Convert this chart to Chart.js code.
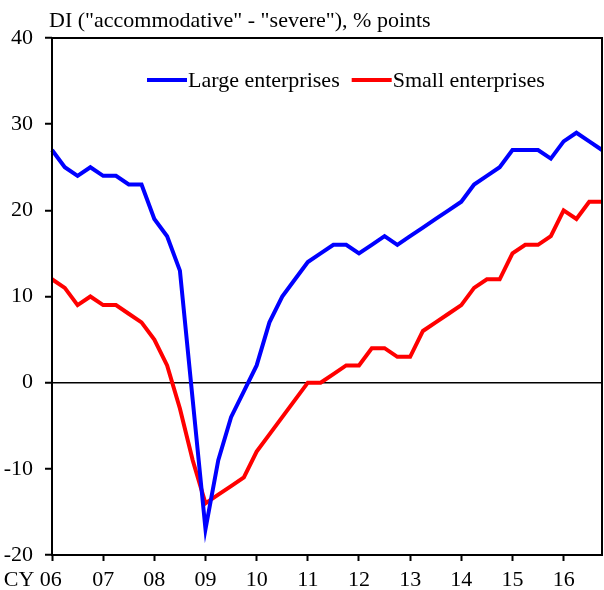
<!DOCTYPE html>
<html><head><meta charset="utf-8">
<script src="https://cdn.jsdelivr.net/npm/chart.js@4.4.1/dist/chart.umd.min.js"></script>
<style>html,body{margin:0;padding:0;background:#fff;}canvas{display:block;}</style>
</head><body>
<canvas id="c" width="604" height="590"></canvas>
<script>
const quarters = [
 "2006Q1","2006Q2","2006Q3","2006Q4","2007Q1","2007Q2","2007Q3","2007Q4",
 "2008Q1","2008Q2","2008Q3","2008Q4","2009Q1","2009Q2","2009Q3","2009Q4",
 "2010Q1","2010Q2","2010Q3","2010Q4","2011Q1","2011Q2","2011Q3","2011Q4",
 "2012Q1","2012Q2","2012Q3","2012Q4","2013Q1","2013Q2","2013Q3","2013Q4",
 "2014Q1","2014Q2","2014Q3","2014Q4","2015Q1","2015Q2","2015Q3","2015Q4",
 "2016Q1","2016Q2","2016Q3","2016Q4"];
const yearLabels = ["CY 06","07","08","09","10","11","12","13","14","15","16"];
const largeEnterprises = [27,25,24,25,24,24,23,23,19,17,13,-2,-17,-9,-4,-1,2,7,10,12,14,15,16,16,15,16,17,16,17,18,19,20,21,23,24,25,27,27,27,26,28,29,28,27];
const smallEnterprises = [12,11,9,10,9,9,8,7,5,2,-3,-9,-14,-13,-12,-11,-8,-6,-4,-2,0,0,1,2,2,4,4,3,3,6,7,8,9,11,12,12,15,16,16,17,20,19,21,21];
const seriesNames = ["Large enterprises","Small enterprises"];
const titleText = 'DI ("accommodative" - "severe"), % points';
const yTicks = {min:-20, max:40, step:10};

const FONT = '"Liberation Serif","Times New Roman",serif';

const decor = {
  id:'decor',
  afterDraw(chart){
    const ctx = chart.ctx, a = chart.chartArea;
    ctx.save();
    ctx.strokeStyle = '#000'; ctx.lineWidth = 2;
    ctx.strokeRect(a.left, a.top, a.right - a.left, a.bottom - a.top);
    ctx.font = '22px ' + FONT; ctx.fillStyle = '#000';
    ctx.textBaseline = 'alphabetic'; ctx.textAlign = 'left';
    ctx.fillText(titleText, 49, 27);
    let x = 147;
    chart.data.datasets.forEach(ds => {
      ctx.strokeStyle = ds.borderColor; ctx.lineWidth = 4; ctx.lineCap = 'butt';
      ctx.beginPath(); ctx.moveTo(x, 80); ctx.lineTo(x + 40, 80); ctx.stroke();
      x += 41;
      ctx.fillText(ds.label, x, 87);
      x += ctx.measureText(ds.label).width + 12;
    });
    ctx.restore();
  }
};

new Chart(document.getElementById('c'), {
  type: 'line',
  data: {
    labels: quarters,
    datasets: [
      {label: seriesNames[0], data: largeEnterprises, borderColor: '#0000ff', backgroundColor: '#0000ff', borderWidth: 4, pointRadius: 0, tension: 0, fill: false},
      {label: seriesNames[1], data: smallEnterprises, borderColor: '#ff0000', backgroundColor: '#ff0000', borderWidth: 4, pointRadius: 0, tension: 0, fill: false}
    ]
  },
  options: {
    responsive: false,
    animation: false,
    devicePixelRatio: 1,
    layout: {padding: {top: 38, right: 2, left: 0, bottom: 0}},
    plugins: {legend: {display: false}, title: {display: false}, tooltip: {enabled: false}},
    scales: {
      x: {
        type: 'category',
        offset: false,
        afterFit: s => { s.height = 35; s.paddingLeft = 0; s.paddingRight = 0; },
        border: {display: false},
        grid: {
          drawOnChartArea: false,
          color: 'rgba(0,0,0,0)',
          tickColor: c => (c.index % 4 === 0 ? '#000' : 'rgba(0,0,0,0)'),
          tickLength: 6, tickWidth: 2
        },
        ticks: {
          autoSkip: false, maxRotation: 0, minRotation: 0, padding: 6,
          color: '#000', font: {family: FONT, size: 22},
          callback: (v, i) => {
            if (i % 4 !== 0) return '';
            const l = yearLabels[i / 4];
            return i === 0 ? l + '\u00a0'.repeat(7) : l;
          }
        }
      },
      y: {
        min: yTicks.min, max: yTicks.max,
        afterFit: s => { s.width = 52; s.paddingTop = 0; s.paddingBottom = 0; },
        border: {display: false},
        grid: {
          color: c => (c.tick && c.tick.value === 0 ? '#000' : 'rgba(0,0,0,0)'),
          lineWidth: 1.5,
          tickColor: '#000', tickLength: 7, tickWidth: 2
        },
        ticks: {stepSize: yTicks.step, padding: 12, color: '#000', font: {family: FONT, size: 22}}
      }
    }
  },
  plugins: [decor]
});
</script>
</body></html>
